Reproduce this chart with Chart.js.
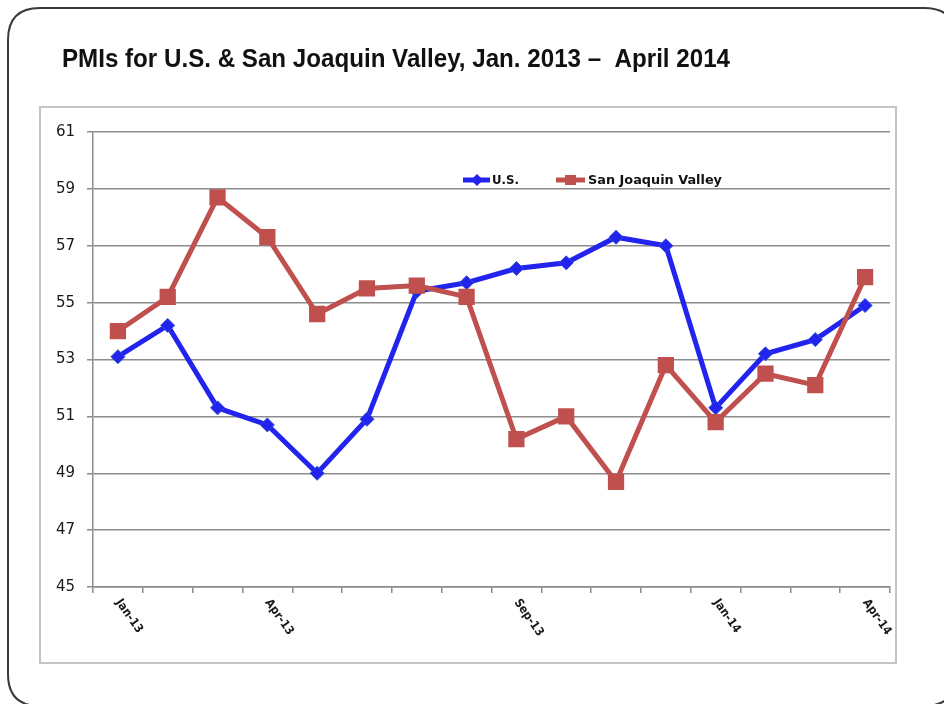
<!DOCTYPE html>
<html>
<head>
<meta charset="utf-8">
<title>PMIs for U.S. & San Joaquin Valley</title>
<script src="https://cdn.jsdelivr.net/npm/chart.js@4.4.0/dist/chart.umd.min.js"></script>
<style>
    html, body { margin: 0; padding: 0; background: #fff; }
    #wrap { width: 944px; height: 704px; position: relative; }
</style>
</head>
<body>
<div id="wrap">
    <canvas id="grafico" width="944" height="704"></canvas>
</div>
<script>
// dados
const meses = ['Jan-13', 'Feb-13', 'Mar-13', 'Apr-13', 'May-13', 'Jun-13', 'Jul-13', 'Aug-13',
    'Sep-13', 'Oct-13', 'Nov-13', 'Dec-13', 'Jan-14', 'Feb-14', 'Mar-14', 'Apr-14'];
const rotulosVisiveis = ['Jan-13', 'Apr-13', 'Sep-13', 'Jan-14', 'Apr-14'];
const pmiUS = [53.1, 54.2, 51.3, 50.7, 49.0, 50.9, 55.4, 55.7, 56.2, 56.4, 57.3, 57.0, 51.3, 53.2, 53.7, 54.9];
const pmiSJV = [54.0, 55.2, 58.7, 57.3, 54.6, 55.5, 55.6, 55.2, 50.2, 51.0, 48.7, 52.8, 50.8, 52.5, 52.1, 55.9];
const yMin = 45;
const yMax = 61;
const yPasso = 2;

const titulo = 'PMIs for U.S. & San Joaquin Valley, Jan. 2013 \u2013  April 2014';
const corUS = '#2323ee';
const corSJV = '#c0504d';

// texto com largura fixa (o original usa fonte condensada)
function textoAjustado(ctx, texto, x, y, largura) {
    const w = ctx.measureText(texto).width;
    ctx.save();
    ctx.translate(x, y);
    ctx.scale(largura / w, 1);
    ctx.fillText(texto, 0, 0);
    ctx.restore();
}

function caixaArredondada(ctx, x, y, w, h, r) {
    ctx.beginPath();
    ctx.moveTo(x + r, y);
    ctx.lineTo(x + w - r, y);
    ctx.quadraticCurveTo(x + w, y, x + w, y + r);
    ctx.lineTo(x + w, y + h - r);
    ctx.quadraticCurveTo(x + w, y + h, x + w - r, y + h);
    ctx.lineTo(x + r, y + h);
    ctx.quadraticCurveTo(x, y + h, x, y + h - r);
    ctx.lineTo(x, y + r);
    ctx.quadraticCurveTo(x, y, x + r, y);
    ctx.closePath();
}

const molduraPlugin = {
    id: 'moldura',
    beforeDraw(chart) {
        const ctx = chart.ctx;
        ctx.save();
        ctx.fillStyle = '#fff';
        ctx.fillRect(0, 0, chart.width, chart.height);

        // caixa externa
        ctx.strokeStyle = '#3a3a3a';
        ctx.lineWidth = 2;
        caixaArredondada(ctx, 8, 8, 948, 698, 32);
        ctx.stroke();

        // caixa do grafico
        ctx.strokeStyle = '#c4c4c4';
        ctx.lineWidth = 2;
        ctx.strokeRect(40, 107, 856, 556);

        // titulo
        ctx.fillStyle = '#111';
        ctx.font = 'bold 25px "Liberation Sans Narrow", "Liberation Sans", Arial, sans-serif';
        ctx.textBaseline = 'alphabetic';
        ctx.textAlign = 'left';
        textoAjustado(ctx, titulo, 62, 67, 668);
        ctx.restore();
    },
    afterDraw(chart) {
        const ctx = chart.ctx;
        const xScale = chart.scales.x;
        ctx.save();

        // rotulos do eixo x, girados para baixo
        ctx.fillStyle = '#1a1a1a';
        ctx.font = 'bold 12px "DejaVu Sans Condensed", "DejaVu Sans", sans-serif';
        ctx.textAlign = 'left';
        ctx.textBaseline = 'top';
        rotulosVisiveis.forEach(label => {
            const i = meses.indexOf(label);
            const x = xScale.getPixelForValue(i);
            ctx.save();
            ctx.translate(x + 5, 597);
            ctx.rotate(55 * Math.PI / 180);
            ctx.fillText(label, 0, 0);
            ctx.restore();
        });

        // legenda
        const yLeg = 180;
        ctx.lineWidth = 5;
        ctx.strokeStyle = corUS;
        ctx.beginPath();
        ctx.moveTo(463, yLeg);
        ctx.lineTo(490, yLeg);
        ctx.stroke();
        ctx.fillStyle = corUS;
        ctx.beginPath();
        ctx.moveTo(477, yLeg - 6);
        ctx.lineTo(483, yLeg);
        ctx.lineTo(477, yLeg + 6);
        ctx.lineTo(471, yLeg);
        ctx.closePath();
        ctx.fill();

        ctx.strokeStyle = corSJV;
        ctx.beginPath();
        ctx.moveTo(556, yLeg);
        ctx.lineTo(585, yLeg);
        ctx.stroke();
        ctx.fillStyle = corSJV;
        ctx.fillRect(565, yLeg - 5, 11, 10);

        ctx.fillStyle = '#111';
        ctx.font = 'bold 13px Tahoma, "DejaVu Sans", sans-serif';
        ctx.textBaseline = 'middle';
        textoAjustado(ctx, 'U.S.', 492, yLeg + 1, 27);
        textoAjustado(ctx, 'San Joaquin Valley', 588, yLeg + 1, 134);
        ctx.restore();
    }
};

function criarGrafico() {
    const graficoContainer = document.getElementById('grafico');

    const graficoData = {
        labels: meses,
        datasets: [{
            label: 'U.S.',
            data: pmiUS,
            borderColor: corUS,
            backgroundColor: corUS,
            borderWidth: 5,
            pointStyle: 'rectRot',
            pointRadius: 7,
            pointBorderWidth: 1,
            pointBorderColor: '#2b4fd8',
            tension: 0,
            order: 2
        }, {
            label: 'San Joaquin Valley',
            data: pmiSJV,
            borderColor: corSJV,
            backgroundColor: corSJV,
            borderWidth: 5,
            pointStyle: 'rect',
            pointRadius: 11.5,
            pointBorderWidth: 0,
            tension: 0,
            order: 1
        }]
    };

    const config = {
        type: 'line',
        data: graficoData,
        options: {
            responsive: false,
            animation: false,
            events: [],
            layout: {
                padding: { left: 0, right: 54, top: 132, bottom: 0 }
            },
            plugins: {
                legend: { display: false },
                title: { display: false },
                tooltip: { enabled: false }
            },
            scales: {
                x: {
                    offset: true,
                    grid: {
                        offset: true,
                        drawOnChartArea: false,
                        drawTicks: true,
                        tickLength: 6,
                        color: '#8c8c8c',
                        lineWidth: 1.5
                    },
                    border: { display: true, color: '#8c8c8c', width: 1.5 },
                    ticks: { display: false },
                    afterFit(scale) {
                        scale.height = 117;
                    }
                },
                y: {
                    min: yMin,
                    max: yMax,
                    grid: {
                        color: '#8c8c8c',
                        lineWidth: 1.5,
                        drawTicks: true,
                        tickLength: 6
                    },
                    border: { display: true, color: '#8c8c8c', width: 1.5 },
                    ticks: {
                        stepSize: yPasso,
                        color: '#1a1a1a',
                        padding: 12,
                        font: { family: 'Tahoma, "DejaVu Sans", sans-serif', size: 15 }
                    },
                    afterFit(scale) {
                        scale.width = 93;
                    }
                }
            }
        },
        plugins: [molduraPlugin]
    };

    new Chart(graficoContainer, config);
}

document.addEventListener('DOMContentLoaded', function() {
    criarGrafico();
});
</script>
</body>
</html>
